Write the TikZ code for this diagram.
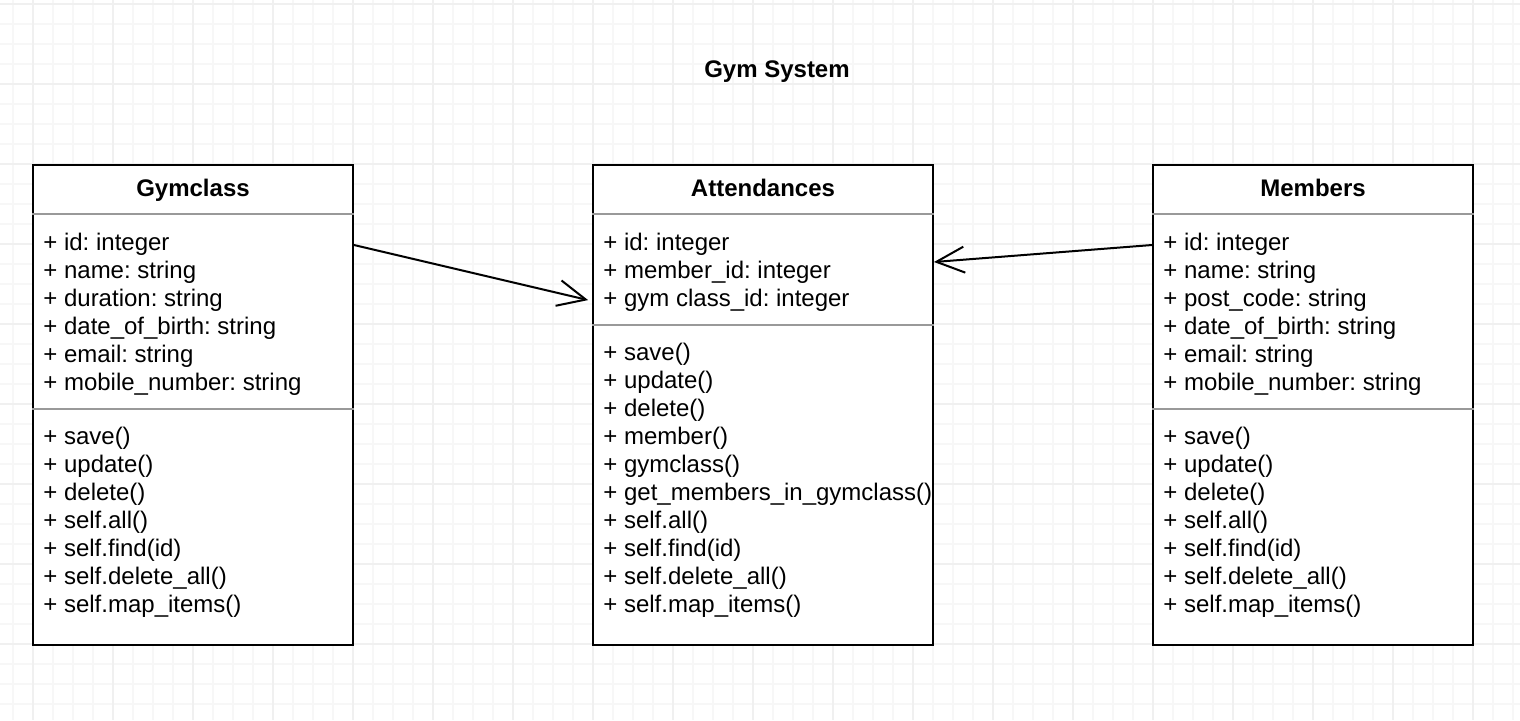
\documentclass[tikz,border=0pt]{standalone}
\usepackage{fontspec}
\setmainfont{Liberation Sans}
\frenchspacing
\usetikzlibrary{arrows.meta}
\tikzset{classbox/.style={draw, fill=white, line width=1pt,
  minimum height=240pt, inner sep=0pt}}
\tikzset{classtitle/.style={font=\fontsize{12}{14}\selectfont\bfseries, anchor=base}}
\tikzset{member/.style={anchor=base west, inner sep=0pt}}
\tikzset{divider/.style={draw=black!40, line width=1pt}}
\tikzset{assoc/.style={line width=1pt, -{Straight Barb[length=14pt,width=13pt]}}}

\begin{document}
\begin{tikzpicture}[x=0.5pt, y=-0.5pt, font=\fontsize{12}{14}\selectfont]
      \useasboundingbox (0,0) rectangle (1520,720);
      % grid
      \foreach \gx in {13,33,...,1513} \draw[black!3, line width=1pt] (\gx,0) -- (\gx,720);
      \foreach \gy in {4,24,...,704} \draw[black!3, line width=1pt] (0,\gy) -- (1520,\gy);
      \foreach \gx in {33,113,...,1473} \draw[black!6, line width=1pt] (\gx,0) -- (\gx,720);
      \foreach \gy in {4,84,...,644} \draw[black!6, line width=1pt] (0,\gy) -- (1520,\gy);

      \node [classtitle] (title) at (777,77) {Gym System};

      % Gymclass
      \node [classbox, minimum width=160pt] (gym) at (193,405) {};
      \node [classtitle] (gym-name) at (193,196) {Gymclass};
      \draw [divider] (gym.west |- 0,214) -- (gym.east |- 0,214);
      \draw [divider] (gym.west |- 0,409) -- (gym.east |- 0,409);
      \foreach \t [count=\i] in {+ id: integer, + name: string, + duration: string,
        + date\_of\_birth: string, + email: string, + mobile\_number: string}
        \node [member] (gym-a\i) at (43,222+28*\i) {\t};
      \foreach \t [count=\i] in {+ save(), + update(), + delete(), + self.all(),
        + self.find(id), + self.delete\_all(), + self.map\_items()}
        \node [member] (gym-m\i) at (43,416+28*\i) {\t};

      % Attendances
      \node [classbox, minimum width=170pt] (att) at (763,405) {};
      \node [classtitle] (att-name) at (763,196) {Attendances};
      \draw [divider] (att.west |- 0,214) -- (att.east |- 0,214);
      \draw [divider] (att.west |- 0,325) -- (att.east |- 0,325);
      \foreach \t [count=\i] in {+ id: integer, + member\_id: integer, + gym class\_id: integer}
        \node [member] (att-a\i) at (603,222+28*\i) {\t};
      \foreach \t [count=\i] in {+ save(), + update(), + delete(), + member(), + gymclass(),
        + get\_members\_in\_gymclass(), + self.all(), + self.find(id),
        + self.delete\_all(), + self.map\_items()}
        \node [member] (att-m\i) at (603,332+28*\i) {\t};

      % Members
      \node [classbox, minimum width=160pt] (mem) at (1313,405) {};
      \node [classtitle] (mem-name) at (1313,196) {Members};
      \draw [divider] (mem.west |- 0,214) -- (mem.east |- 0,214);
      \draw [divider] (mem.west |- 0,409) -- (mem.east |- 0,409);
      \foreach \t [count=\i] in {+ id: integer, + name: string, + post\_code: string,
        + date\_of\_birth: string, + email: string, + mobile\_number: string}
        \node [member] (mem-a\i) at (1163,222+28*\i) {\t};
      \foreach \t [count=\i] in {+ save(), + update(), + delete(), + self.all(),
        + self.find(id), + self.delete\_all(), + self.map\_items()}
        \node [member] (mem-m\i) at (1163,416+28*\i) {\t};

      % associations
      \draw [assoc, shorten >=2pt] (gym.east |- 0,245) -- (att.west |- 0,301);
      \draw [assoc] (mem.west |- 0,245) -- (att.east |- 0,262);
\end{tikzpicture}
\end{document}
